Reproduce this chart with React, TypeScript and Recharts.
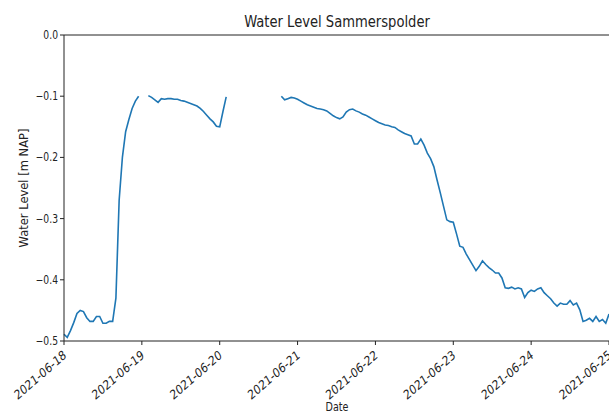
import React from "react";
import {
  LineChart,
  Line,
  XAxis,
  YAxis,
  ReferenceLine,
} from "recharts";

// hourly readings starting 2021-06-18 00:00, null = no data
const LEVELS: (number | null)[] = [
  // 06-18
  -0.489, -0.494, -0.483, -0.47, -0.455, -0.45, -0.452, -0.462, -0.468, -0.468,
  -0.46, -0.46, -0.471, -0.471, -0.468, -0.468, -0.43, -0.27, -0.2, -0.158,
  -0.138, -0.12, -0.108, -0.1,
  // 06-19
  null, null, -0.099, -0.102, -0.106, -0.11, -0.104, -0.105, -0.104, -0.104,
  -0.105, -0.105, -0.107, -0.108, -0.11, -0.112, -0.114, -0.116, -0.12, -0.125,
  -0.131, -0.137, -0.142, -0.149,
  // 06-20
  -0.15, -0.125, -0.101, null, null, null, null, null, null, null,
  null, null, null, null, null, null, null, null, null, -0.1,
  -0.106, -0.104, -0.102, -0.103,
  // 06-21
  -0.105, -0.108, -0.111, -0.114, -0.116, -0.118, -0.12, -0.121, -0.122, -0.124,
  -0.128, -0.132, -0.135, -0.137, -0.134, -0.126, -0.122, -0.121, -0.124, -0.126,
  -0.129, -0.131, -0.134, -0.137,
  // 06-22
  -0.14, -0.143, -0.145, -0.147, -0.148, -0.15, -0.151, -0.155, -0.158, -0.161,
  -0.163, -0.165, -0.178, -0.178, -0.17, -0.18, -0.193, -0.202, -0.215, -0.237,
  -0.258, -0.28, -0.302, -0.305,
  // 06-23
  -0.306, -0.325, -0.345, -0.347, -0.358, -0.367, -0.376, -0.385, -0.378, -0.369,
  -0.375, -0.38, -0.384, -0.389, -0.389, -0.397, -0.413, -0.414, -0.412, -0.415,
  -0.413, -0.415, -0.429, -0.421,
  // 06-24
  -0.417, -0.419, -0.415, -0.413, -0.421, -0.426, -0.431, -0.438, -0.443, -0.438,
  -0.44, -0.44, -0.434, -0.441, -0.438, -0.449, -0.468, -0.466, -0.463, -0.468,
  -0.46, -0.468, -0.465, -0.471,
  // 06-25
  -0.456,
];

const DATE_LABELS = [
  "2021-06-18",
  "2021-06-19",
  "2021-06-20",
  "2021-06-21",
  "2021-06-22",
  "2021-06-23",
  "2021-06-24",
  "2021-06-25",
];

const Y_TICKS = [-0.5, -0.4, -0.3, -0.2, -0.1, 0];

const FONT = "'DejaVu Sans', sans-serif";
const SQUEEZE = 0.8; // the reference text is narrow

const data = LEVELS.map((level, i) => ({ hour: i, level }));
const xTicks = DATE_LABELS.map((_, i) => i * 24);

function DateTick(props: any) {
  const { x, y, payload } = props;
  const label = DATE_LABELS[Math.round(payload.value / 24)];
  return (
    <g transform={`translate(${x + 3},${y + 10}) scale(${SQUEEZE},1) rotate(-35)`}>
      <text x={0} y={0} textAnchor="end" fontSize={13} fontFamily={FONT} fill="#222">
        {label}
      </text>
    </g>
  );
}

function LevelTick(props: any) {
  const { x, y, payload } = props;
  const label = payload.value.toFixed(1).replace("-", "\u2212");
  return (
    <g transform={`translate(${x},${y + 4}) scale(${SQUEEZE},1)`}>
      <text x={0} y={0} textAnchor="end" fontSize={11.5} fontFamily={FONT} fill="#222">
        {label}
      </text>
    </g>
  );
}

export default function App() {
  return (
    <div
      style={{
        position: "absolute",
        left: 0,
        top: 0,
        width: 609,
        height: 412,
        background: "#fff",
      }}
    >
      <LineChart
        width={609}
        height={412}
        data={data}
        margin={{ top: 35, right: 0, bottom: 0, left: 0 }}
      >
        <XAxis
          dataKey="hour"
          type="number"
          domain={[0, 168]}
          ticks={xTicks}
          interval={0}
          height={71}
          stroke="#222"
          tickSize={4}
          tick={<DateTick />}
        />
        <YAxis
          type="number"
          domain={[-0.5, 0]}
          ticks={Y_TICKS}
          interval={0}
          width={64}
          stroke="#222"
          tickSize={4}
          tick={<LevelTick />}
        />
        <ReferenceLine y={0} stroke="#222" />
        <Line
          type="linear"
          dataKey="level"
          stroke="#1f77b4"
          strokeWidth={1.6}
          dot={false}
          isAnimationActive={false}
        />
      </LineChart>
      <svg
        width={609}
        height={412}
        style={{ position: "absolute", left: 0, top: 0, pointerEvents: "none" }}
      >
        <g transform={`translate(337,27) scale(0.82,1)`}>
          <text x={0} y={0} textAnchor="middle" fontSize={16} fontFamily={FONT} fill="#222">
            Water Level Sammerspolder
          </text>
        </g>
        <text
          x={28}
          y={188}
          textAnchor="middle"
          fontSize={11.5}
          fontFamily={FONT}
          fill="#222"
          transform="rotate(-90, 28, 188)"
        >
          Water Level [m NAP]
        </text>
        <g transform={`translate(337,411) scale(${SQUEEZE},1)`}>
          <text x={0} y={0} textAnchor="middle" fontSize={12} fontFamily={FONT} fill="#222">
            Date
          </text>
        </g>
      </svg>
    </div>
  );
}
